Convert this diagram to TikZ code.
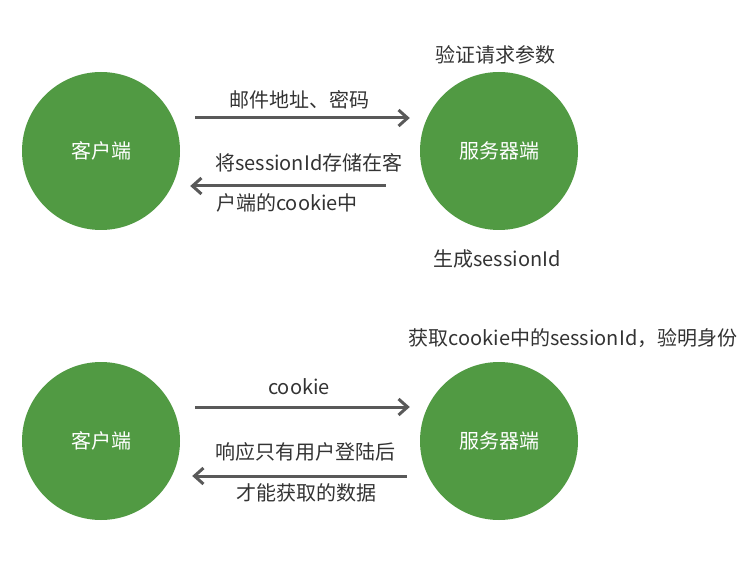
\documentclass[tikz,border=0pt]{standalone}
\usepackage{fontspec}
\setmainfont{Noto Sans CJK SC}
\usetikzlibrary{arrows.meta,positioning}
\definecolor{nodegreen}{HTML}{519A43}
\definecolor{linegray}{HTML}{595959}
\definecolor{textgray}{HTML}{333333}
\tikzset{
  party/.style={circle, fill=nodegreen, text=white, minimum size=158pt, inner sep=0pt},
  msg/.style={draw=linegray, line width=3pt, -{Straight Barb[length=9pt,width=16pt]}},
  note/.style={text=textgray, inner sep=0pt},
}

\begin{document}
\begin{tikzpicture}[x=1pt, y=-1pt, every node/.style={font=\fontsize{20}{24}\selectfont}]
  \useasboundingbox (0,0) rectangle (750,564);
  % login
  \node[party] (c1) at (101,151) {客户端};
  \node[party] (s1) at (499,151) {服务器端};
  \draw[msg, shorten <=15pt, shorten >=10pt] ([yshift=33pt]c1.east) -- ([yshift=33pt]s1.west);
  \draw[msg, shorten <=34pt, shorten >=10pt] ([yshift=-35pt]s1.west) -- ([yshift=-35pt]c1.east);
  \node[note] (q1) at (299,100) {邮件地址、密码};
  \node[note, anchor=west] (r1) at (215,163) {将sessionId存储在客};
  \node[note, anchor=west] (r2) at (216,203) {户端的cookie中};
  \node[note] (v1) at (495,55) {验证请求参数};
  \node[note] (g1) at (497,259) {生成sessionId};
  % later requests
  \node[party] (c2) at (101,441) {客户端};
  \node[party] (s2) at (499,441) {服务器端};
  \draw[msg, shorten <=15pt, shorten >=10pt] ([yshift=34pt]c2.east) -- ([yshift=34pt]s2.west);
  \draw[msg, shorten <=13pt, shorten >=12pt] ([yshift=-35pt]s2.west) -- ([yshift=-35pt]c2.east);
  \node[note] (q2) at (299,387) {cookie};
  \node[note] (r3) at (305,452) {响应只有用户登陆后};
  \node[note] (r4) at (306,493) {才能获取的数据};
  \node[note] (v2) at (573,338) {获取cookie中的sessionId，验明身份};
\end{tikzpicture}
\end{document}
